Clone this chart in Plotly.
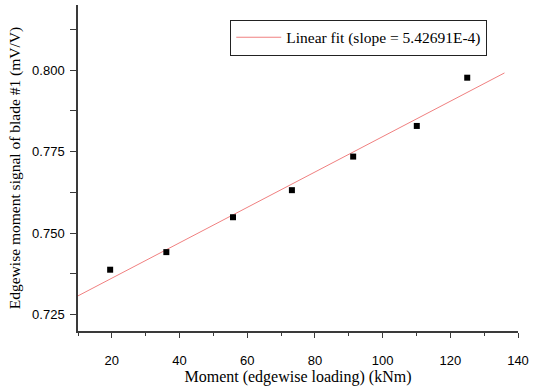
import plotly.graph_objects as go

# Data
moment_knm = [19.5, 36.1, 55.8, 73.2, 91.3, 110.1, 125.0]
signal_mvv = [0.7388, 0.7442, 0.7549, 0.7632, 0.7735, 0.7829, 0.7977]

fit_slope = 5.42691e-4
fit_intercept = 0.72535
fit_x = [10, 136]
fit_y = [fit_intercept + fit_slope * x for x in fit_x]

x_tickvals = [20, 40, 60, 80, 100, 120, 140]
y_tickvals = [0.725, 0.750, 0.775, 0.800]
y_ticktext = ["0.725", "0.750", "0.775", "0.800"]

fig = go.Figure()
fig.add_trace(go.Scatter(
    x=fit_x, y=fit_y, mode="lines",
    line=dict(color="#f08080", width=1),
    name="Linear fit (slope = 5.42691E-4)",
))
fig.add_trace(go.Scatter(
    x=moment_knm, y=signal_mvv, mode="markers",
    marker=dict(symbol="square", size=6, color="black"),
    showlegend=False,
))

axis_color = "#3a3a3a"
fig.update_layout(
    width=534, height=387,
    margin=dict(l=78, r=11, t=5, b=55),
    plot_bgcolor="white", paper_bgcolor="white",
    legend=dict(
        x=0.346, y=0.955, xanchor="left", yanchor="top",
        bordercolor="#222222", borderwidth=1,
        bgcolor="white",
        font=dict(family="Liberation Serif", size=15.5, color="black"),
        itemwidth=45,
        tracegroupgap=0,
    ),
    xaxis=dict(
        range=[10, 140], showgrid=False, zeroline=False,
        showline=True, linecolor=axis_color, linewidth=1.5,
        ticks="outside", ticklen=5, tickwidth=1, tickcolor=axis_color,
        tickvals=x_tickvals,
        tickfont=dict(family="Liberation Sans", size=13, color="black"),
        ticklabelstandoff=12,
        minor=dict(ticks="outside", ticklen=3, tickcolor=axis_color, dtick=10, tick0=0, showgrid=False),
        title=dict(text="Moment (edgewise loading) (kNm)",
                   font=dict(family="Liberation Serif", size=16, color="black"), standoff=2),
    ),
    yaxis=dict(
        range=[0.720, 0.820], showgrid=False, zeroline=False,
        showline=True, linecolor=axis_color, linewidth=1.5,
        ticks="outside", ticklen=6, tickwidth=1, tickcolor=axis_color,
        tickvals=y_tickvals, ticktext=y_ticktext,
        tickfont=dict(family="Liberation Sans", size=13, color="black"),
        ticklabelstandoff=3,
        minor=dict(ticks="outside", ticklen=6, tickcolor=axis_color, dtick=0.0125, tick0=0.7125, showgrid=False),
        title=dict(text="Edgewise moment signal of blade #1 (mV/V)",
                   font=dict(family="Liberation Serif", size=15.5, color="black"), standoff=8),
    ),
)

fig.write_html("out.html")
